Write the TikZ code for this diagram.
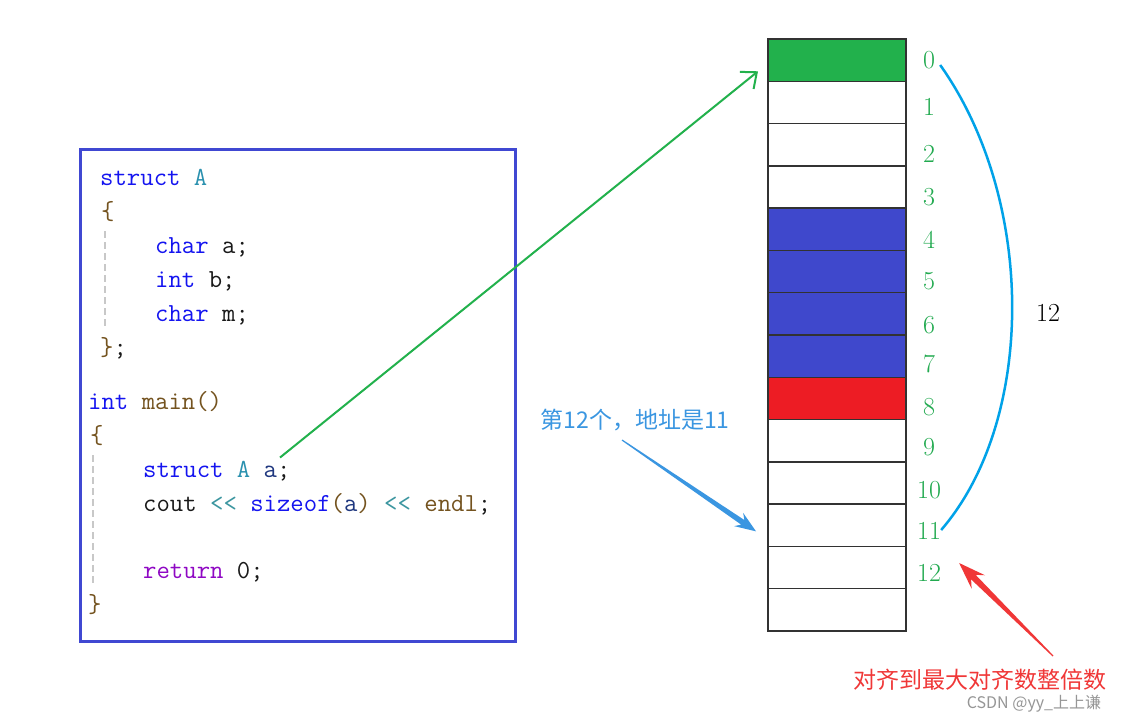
\documentclass[tikz,border=0pt]{standalone}
\usepackage{fontspec}
\newfontfamily\cjk{Noto Sans CJK SC}
\usetikzlibrary{arrows.meta,calc}
\definecolor{kw}{RGB}{20,20,240}
\definecolor{ty}{RGB}{43,145,175}
\definecolor{fn}{RGB}{116,83,31}
\definecolor{op}{RGB}{60,150,160}
\definecolor{pu}{RGB}{143,8,196}
\definecolor{var}{RGB}{31,55,127}
\definecolor{codeblack}{RGB}{25,25,25}
\definecolor{boxblue}{RGB}{64,72,210}
\definecolor{cgreen}{RGB}{34,177,76}
\definecolor{cblue}{RGB}{63,72,204}
\definecolor{cred}{RGB}{237,28,36}
\definecolor{numgreen}{RGB}{34,170,80}
\definecolor{curveblue}{RGB}{0,162,232}
\definecolor{noteblue}{RGB}{58,150,225}
\definecolor{notered}{RGB}{240,55,55}
\definecolor{wmgray}{RGB}{150,150,150}
\definecolor{cellline}{RGB}{50,50,50}
\definecolor{guidegray}{RGB}{200,200,200}
\newcommand\codefont{\ttfamily\fontsize{26}{30}\selectfont}
\newcommand\taperarrow[7]{% #1 start, #2 tip, #3 colour, #4 shaft half, #5 join dist, #6 barb dist, #7 head half
  \coordinate (tmpH) at ($(#2)!#5!(#1)$);
  \coordinate (tmpB) at ($(#2)!#6!(#1)$);
  \fill[#3] ($(#1)!0.6pt!90:(#2)$) -- ($(tmpH)!#4!90:(#2)$) -- ($(tmpB)!#7!90:(#2)$) -- (#2)
     -- ($(tmpB)!#7!-90:(#2)$) -- ($(tmpH)!#4!-90:(#2)$) -- ($(#1)!0.6pt!-90:(#2)$) -- cycle;}
\begin{document}
\begin{tikzpicture}[x=1pt,y=-1pt,
  code/.style={anchor=base west, inner sep=0pt, font=\codefont, text=codeblack},
  cell/.style={draw=cellline, line width=1.4pt, minimum width=138pt, minimum height=42.29pt, inner sep=0pt, outer sep=0pt},
  num/.style={font=\fontsize{26}{30}\selectfont, text=numgreen, inner sep=0pt},
  guide/.style={draw=guidegray, line width=2pt, dash pattern=on 7pt off 4pt},
  garrow/.style={draw=cgreen, line width=2pt, -{Straight Barb[length=13pt,width=22pt,line width=2pt]}}
]
\useasboundingbox[fill=white] (0,0) rectangle (1121,723);

% code box
\node[draw=boxblue, line width=3pt, minimum width=435pt, minimum height=492pt, anchor=north west, inner sep=0pt] (codebox) at (79,148) {};
\draw[guide] (105,231) -- (105,328);
\draw[guide] (93,455) -- (93,586);

\node[code] (l1) at (100,185) {\textcolor{kw}{struct} \textcolor{ty}{A}};
\node[code] (l2) at (101,219) {\textcolor{fn}{\{}};
\node[code] (l3) at (155,253) {\textcolor{kw}{char} a;};
\node[code] (l4) at (155,287) {\textcolor{kw}{int} b;};
\node[code] (l5) at (155,321) {\textcolor{kw}{char} m;};
\node[code] (l6) at (100,355) {\textcolor{fn}{\}};};
\node[code] (l7) at (88,409) {\textcolor{kw}{int} \textcolor{fn}{main()}};
\node[code] (l8) at (90,443) {\textcolor{fn}{\{}};
\node[code] (l9) at (143,477) {\textcolor{kw}{struct} \textcolor{ty}{A} \textcolor{var}{a};};
\node[code] (l10) at (143,511) {cout \textcolor{op}{<<} \textcolor{kw}{sizeof}\textcolor{fn}{(}\textcolor{var}{a}\textcolor{fn}{)} \textcolor{op}{<<} \textcolor{fn}{endl};};
\node[code] (l11) at (143,578) {\textcolor{pu}{return} 0;};
\node[code] (l12) at (88,612) {\textcolor{fn}{\}}};

% memory cells
\foreach \i/\f in {0/cgreen,1/white,2/white,3/white,4/cblue,5/cblue,6/cblue,7/cblue,8/cred,9/white,10/white,11/white,12/white,13/white}
  \node[cell, fill=\f] (c\i) at (837,{39+42.29*(\i+0.5)}) {};

% index labels
\foreach \i/\y in {0/60,1/107,2/154,3/197,4/240,5/281,6/325,7/364,8/407,9/447,10/490,11/531,12/573}
  \node[num] (n\i) at (929,\y) {\i};

% brace-like curve
\coordinate (ctop) at ($(n0.east)+(5,5)$);
\coordinate (cbot) at ($(n11.east)+(0,-1)$);
\draw[curveblue, line width=2.5pt] (ctop) .. controls (1036,200) and (1036,420) .. (cbot);
\node[font=\fontsize{26}{30}\selectfont, inner sep=0pt] (twelve) at (1048,313) {12};

% green arrow
\coordinate (gstart) at ($(l9.north west)+(137,-3)$);
\coordinate (gtip) at ($(c0.south west)+(-10,-10)$);
\draw[garrow] (gstart) -- (gtip);

% blue note
\node[font=\cjk\fontsize{23}{26}\selectfont, text=noteblue, inner sep=0pt] (bnote) at (635,420) {第12个，地址是11};
\coordinate (bstart) at (622,440);
\coordinate (btip) at ($(c11.west)+(-12,6)$);
\taperarrow{bstart}{btip}{noteblue}{2.8pt}{16pt}{21pt}{8pt}

% red note
\node[font=\cjk\fontsize{23}{26}\selectfont, text=notered, inner sep=0pt] (rnote) at (980,680) {对齐到最大对齐数整倍数};
\coordinate (rstart) at (1053,656);
\coordinate (rtip) at ($(n12.east)+(18,-10)$);
\taperarrow{rstart}{rtip}{notered}{3.2pt}{20pt}{27pt}{9.5pt}

% watermark
\node[font=\cjk\fontsize{16}{18}\selectfont, text=wmgray, inner sep=0pt] (wm) at (1034,704) {CSDN @yy\_上上谦};
\end{tikzpicture}
\end{document}
